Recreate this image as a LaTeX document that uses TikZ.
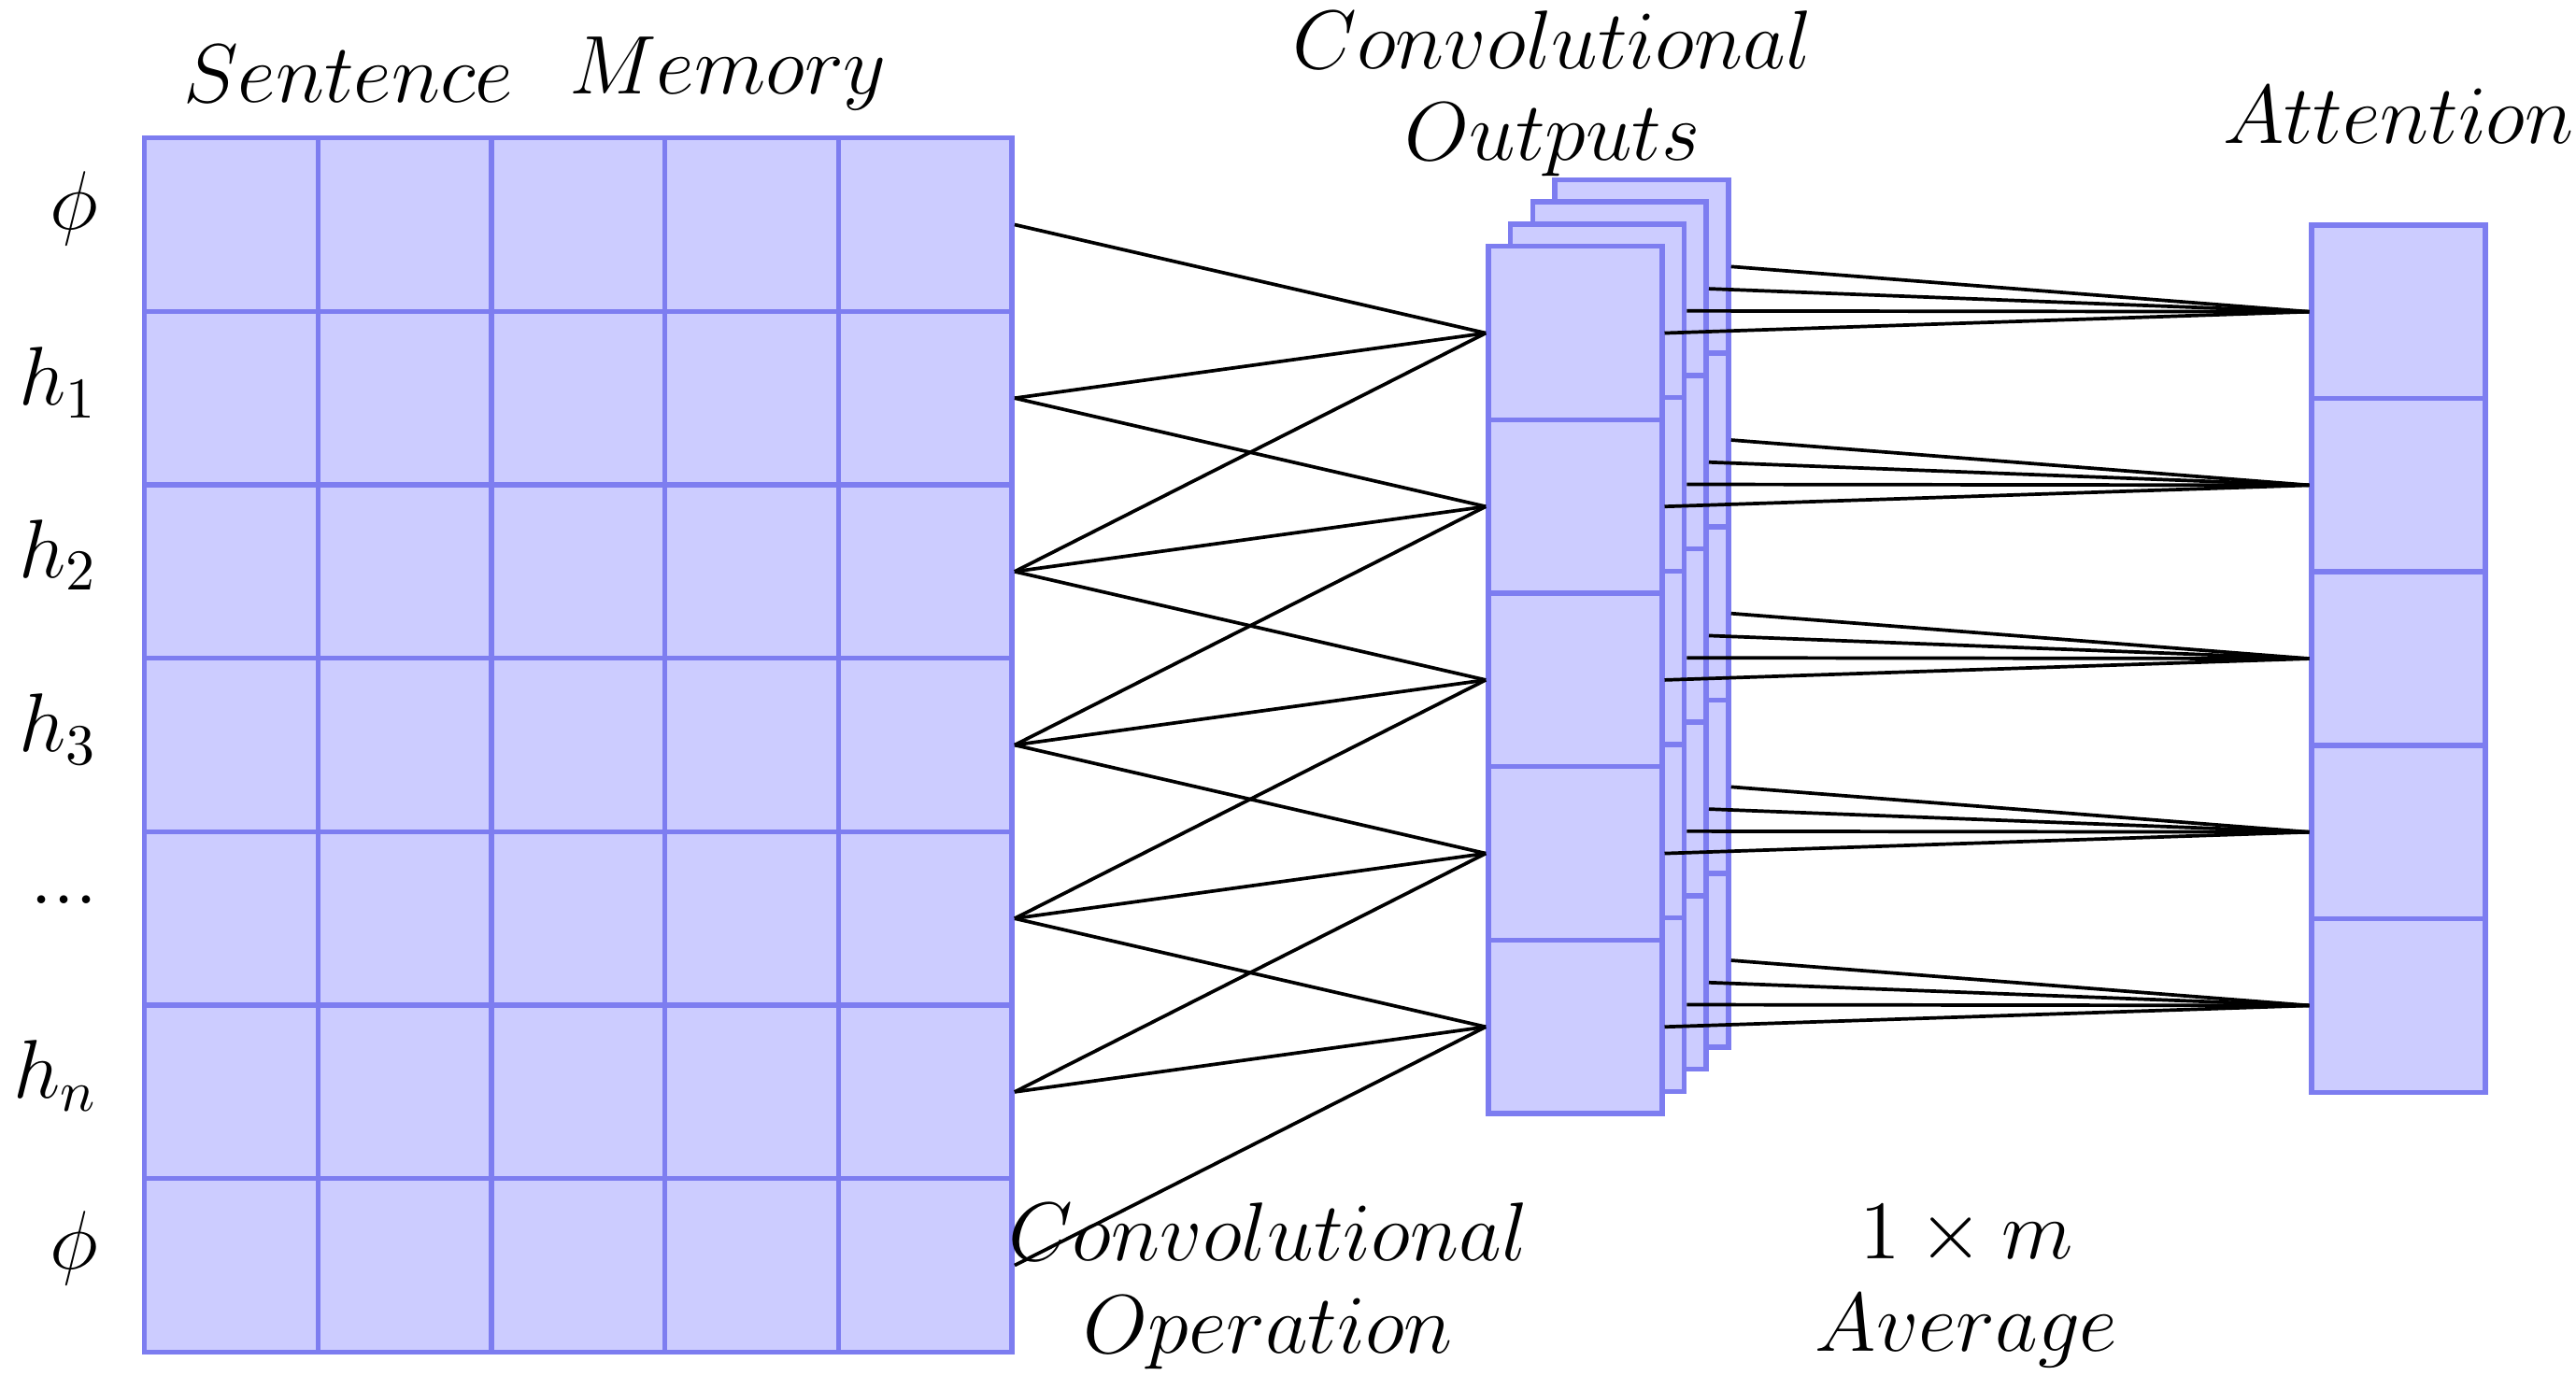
\documentclass[tikz,border=0pt]{standalone}
\begin{document}
\definecolor{cf}{RGB}{204,204,255}
\definecolor{cd}{RGB}{125,125,240}
\begin{tikzpicture}[x=0.01cm,y=-0.01cm,
  cell/.style={draw=cd,fill=cf,line width=0.9pt,minimum size=1.056cm,inner sep=0,anchor=center},
  lab/.style={font=\fontsize{14}{16}\selectfont},
  ln/.style={black,line width=0.6pt}]
\useasboundingbox (0,0) rectangle (1568,846);
% grid
\foreach \r in {0,...,6}{\foreach \c in {1,...,5}{
  \node[cell] (g-\r-\c) at ({88+52.8+105.6*(\c-1)},{84+52.8+105.6*\r}) {};}}
% row labels
\node[lab,anchor=east] (l0) at (72,127) {$\phi$};
\node[lab,anchor=east] (l1) at (72,233) {$h_1$};
\node[lab,anchor=east] (l2) at (72,338) {$h_2$};
\node[lab,anchor=east] (l3) at (72,444) {$h_3$};
\node[lab,anchor=east] (l4) at (72,548) {$...$};
\node[lab,anchor=east] (l5) at (72,655) {$h_n$};
\node[lab,anchor=east] (l6) at (72,760) {$\phi$};
\node[lab] (t1) at (212,45) {$Sentence$};
\node[lab] (t2) at (443,45) {$Memory$};
% conv layers back to front
\foreach \l in {3,2,1,0}{\foreach \i in {0,...,4}{
  \node[cell] (c-\l-\i) at ({906+13.5*\l+52.8},{150-13.5*\l+52.8+105.6*\i}) {};}}
% attention
\foreach \i in {0,...,4}{\node[cell] (a-\i) at (1460,{137+52.8+105.6*\i}) {};}
% conv connections
\foreach \i in {0,...,4}{
  \pgfmathtruncatemacro{\ra}{\i}\pgfmathtruncatemacro{\rb}{\i+1}\pgfmathtruncatemacro{\rc}{\i+2}
  \draw[ln] (g-\ra-5.east) -- (c-0-\i.west);
  \draw[ln] (g-\rb-5.east) -- (c-0-\i.west);
  \draw[ln] (g-\rc-5.east) -- (c-0-\i.west);}
% average connections
\foreach \l in {0,...,3}{\foreach \i in {0,...,4}{
  \draw[ln] (c-\l-\i.east) -- (a-\i.west);}}
\node[lab,align=center] (co) at (945,57) {$Convolutional$\\$Outputs$};
\node[lab] (at) at (1460,70) {$Attention$};
\node[lab,align=center] (cop) at (772,783) {$Convolutional$\\$Operation$};
\node[lab,align=center] (av) at (1197,783) {$1\times m$\\$Average$};
\end{tikzpicture}
\end{document}
